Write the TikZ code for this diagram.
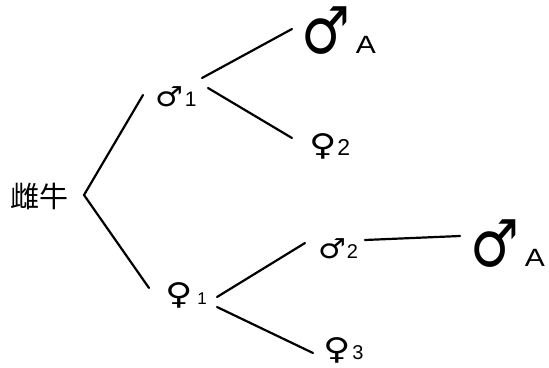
\documentclass[tikz,border=0pt]{standalone}
\usepackage{fontspec}
\newfontfamily\symfont{DejaVu Sans}
\newfontfamily\symbold{DejaVu Sans Bold}
\newfontfamily\latfont{Liberation Sans}
\newfontfamily\cjkfont{Noto Sans CJK JP}
\newcommand{\smale}{\scalebox{1.3}[1.15]{\symfont\fontsize{24}{24}\selectfont ♂}}
\newcommand{\bmale}{\scalebox{0.94}[1.12]{\symbold\fontsize{58}{58}\selectfont ♂}}
\newcommand{\sfem}{\scalebox{1.25}[1]{\symfont\fontsize{30}{30}\selectfont ♀}}
\newcommand{\dig}[2]{{\latfont\fontsize{#1}{#1}\selectfont #2}}
\begin{document}
\begin{tikzpicture}[x=1pt,y=-1pt,
  lbl/.style={inner sep=0pt,outer sep=0pt,anchor=base west},
  branch/.style={line width=2.2pt,line cap=round}]
\useasboundingbox (0,0) rectangle (549,367);
% nodes
\node[lbl,font=\cjkfont\fontsize{29}{29}\selectfont] (cow) at (10,207) {雌牛};
\node[lbl] (m1) at (155,106) {\smale\hspace{2pt}\dig{21}{1}};
\node[lbl] (mA1) at (301,53) {\bmale\hspace{6pt}\scalebox{1.2}[1]{\dig{25}{A}}};
\node[lbl] (f2) at (309,155) {\sfem\hspace{1pt}\dig{23}{2}};
\node[lbl] (f1) at (165,304) {\sfem\hspace{5pt}\dig{17}{1}};
\node[lbl] (m2) at (318,258) {\smale\hspace{1pt}\dig{20}{2}};
\node[lbl] (mA2) at (470,266) {\bmale\hspace{6pt}\scalebox{1.2}[1]{\dig{25}{A}}};
\node[lbl] (f3) at (323,359) {\sfem\hspace{2pt}\dig{20}{3}};
% connectors
\draw[branch] ([shift={(-12,-11)}]m1.base west) -- ([shift={(74,-12)}]cow.base west) -- ([shift={(-16,-16)}]f1.base west);
\draw[branch] ([shift={(47,-28)}]m1.base west) -- ([shift={(-9,-24)}]mA1.base west);
\draw[branch] ([shift={(53,-18)}]m1.base west) -- ([shift={(-17,-17)}]f2.base west);
\draw[branch] ([shift={(52,-7)}]f1.base west) -- ([shift={(-13,-15)}]m2.base west);
\draw[branch] ([shift={(52,3)}]f1.base west) -- ([shift={(-10,-6)}]f3.base west);
\draw[branch] ([shift={(47,-18)}]m2.base west) -- ([shift={(-10,-30)}]mA2.base west);
\end{tikzpicture}
\end{document}
